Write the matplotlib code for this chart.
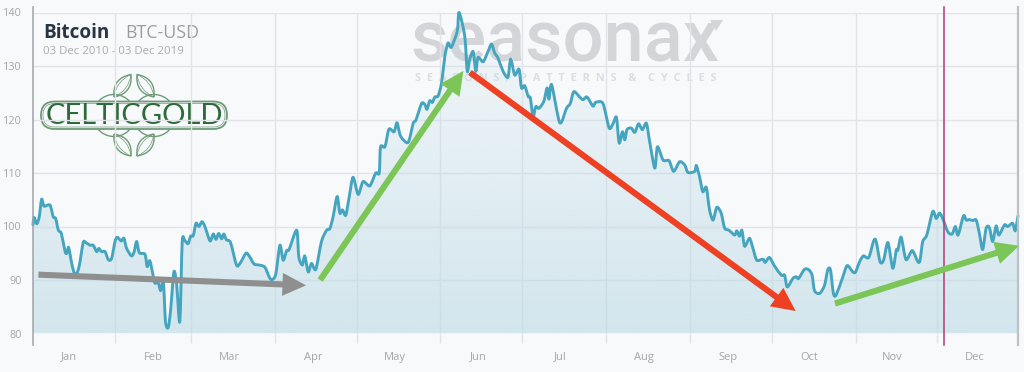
import numpy as np
import matplotlib
matplotlib.use("Agg")
import matplotlib.pyplot as plt
from matplotlib.patches import FancyArrowPatch, FancyBboxPatch, PathPatch, Arc, Polygon
from matplotlib.path import Path

plt.rcParams['font.family'] = ['Open Sans', 'DejaVu Sans']

# seasonal pattern, day of year / index value
days = [0, 0.4, 1.4, 2.3, 3.2, 4.1, 6.3, 7.5, 8.4, 9.4, 10.5, 11.9, 12.5, 13.2, 14.1, 15.2, 16.2, 17.2, 18.6, 19.6,
        21.1, 22.3, 23.6, 24.4, 25.4, 26.7, 27.9, 29.1, 30.4, 31.2, 32.2, 32.8, 33.7, 34.7, 36.5, 37.5, 38.4, 39.4, 41.5, 42.3,
        43.3, 44.6, 45.2, 46.4, 47.3, 48.3, 49.1, 50.1, 51, 52.2, 53.2, 54.4, 55.3, 56.3, 57.5, 58.4, 59.4, 60.4, 61.5, 62.6,
        63.7, 65.6, 66.8, 67.8, 68.8, 69.9, 70.7, 71.7, 73.2, 75.4, 76.7, 78.9, 80.1, 81.9, 83.8, 85.9, 87.8, 88.8, 90, 91.5,
        92.7, 94, 94.9, 97.7, 98.5, 99.8, 100.7, 102, 103.2, 104.8, 106.9, 108.8, 110, 111.2, 112.7, 113.7, 114.7, 115.9, 117.2, 118.6,
        120.5, 122.3, 124.8, 127, 128.3, 128.8, 130.4, 131.9, 133.8, 134.9, 136.2, 139, 140.9, 141.9, 144, 145.2, 146, 147, 148, 148.9,
        150.1, 151.4, 152.6, 153.8, 155, 157.2, 157.9, 160, 160.9, 161.8, 163.1, 164.1, 164.9, 166.8, 168.6, 169.9, 171.1, 172.3, 174.2, 176,
        177, 178.5, 180.1, 181, 182.2, 183.5, 184.3, 185.3, 186.3, 187.5, 189.3, 190.5, 191.2, 192.2, 195.2, 197.7, 199.1, 200.4, 202.6, 203.8,
        205.3, 207.5, 208.5, 211.2, 213.5, 215, 216.2, 217.2, 218.4, 219.3, 220.1, 221.7, 223, 224.4, 225.8, 227.3, 228.5, 230.4, 231.4, 233.5,
        235.7, 237.4, 239.6, 241.5, 242.7, 245.2, 245.8, 247, 248.2, 249.5, 250.7, 252, 253.4, 255, 256.3, 257.9, 260, 260.8, 261.8, 262.7,
        263.7, 265.5, 266.8, 268.2, 270.5, 271.3, 272.9, 274.8, 277.3, 278.5, 279.5, 281.6, 282.8, 283.7, 285.9, 287.5, 288.7, 289.6, 291.5, 293.3,
        294.5, 295.5, 296.6, 297.6, 300.1, 301.7, 303.8, 304.8, 306.3, 307.7, 309.7, 311.5, 312.4, 313.9, 315.2, 316.8, 318.6, 319.9, 320.5, 321.7,
        323.5, 325.8, 327.9, 328.7, 329.7, 331.2, 333.4, 334.7, 335.9, 337.1, 339, 340.6, 341.8, 342.8, 344.8, 345.8, 347, 348.2, 349.5, 350.7,
        351.9, 353.2, 354.4, 355.6, 356.9, 357.9, 360, 361.2, 363, 364, 365]
values = [100.3, 101.7, 100.5, 101.8, 105.1, 103.8, 104, 101.8, 101.5, 99.3, 98.7, 95.3, 95, 96.1, 93.7, 91.4, 91.2, 92.8, 97, 97,
          96.5, 96.5, 95.3, 95.9, 95.3, 95.3, 93.8, 94, 97.2, 98, 97.5, 97.3, 97.8, 95.9, 94.5, 95.3, 97.2, 95.1, 94.8, 92.5,
          93.6, 90.6, 89.4, 89.5, 88, 89.7, 82.2, 81.1, 84.4, 91.5, 89.4, 82.2, 97.2, 97.3, 96.8, 98.2, 98.3, 100.6, 100, 100.9,
          100, 97.3, 98.6, 97.6, 98.7, 97.7, 98.6, 97.5, 97, 92.8, 93.1, 95, 94.5, 93, 92.8, 92.4, 90.3, 90.1, 91.2, 96.5,
          93.7, 95.5, 95.7, 99.3, 94.3, 92.8, 94.5, 91.5, 93.1, 92, 97.2, 99.3, 99.6, 101.8, 105.6, 102.5, 103.1, 102.1, 105.6, 109.2,
          106, 108.4, 107.6, 110, 110, 114.9, 114.9, 118.2, 117.7, 119.4, 116.9, 115.7, 119.3, 119.9, 123, 122.8, 121.9, 123.5, 123.2, 124.2,
          124.4, 126.8, 131.8, 134.3, 133.5, 136.5, 140, 135.5, 129, 131.2, 132.7, 129, 131.6, 130.8, 132.7, 134.1, 132.4, 131.5, 129, 127.9,
          131.3, 128.3, 129.4, 125.9, 126.3, 124.3, 124, 120.5, 122.4, 122.1, 123.4, 125.9, 123.8, 126.5, 119.4, 122.1, 123, 125.2, 124.2, 123.7,
          124.2, 122.5, 123.2, 123, 118.4, 119.3, 120.4, 115.6, 117.7, 116.2, 118.1, 118.4, 117.6, 119.2, 118.1, 119.3, 115.9, 110.9, 114.9, 112.4,
          112.3, 110.3, 112.1, 111.5, 110.1, 110.3, 111.4, 109.3, 106.5, 107.3, 103.1, 101.2, 103.6, 102.5, 99.7, 99.3, 98.4, 99.2, 98.2, 99.3,
          96.3, 97.8, 95.9, 93.7, 93.9, 93.3, 94.2, 92.6, 90.9, 90.9, 88.7, 90.3, 90.6, 90.3, 92, 91.9, 90.9, 88, 87.5, 89,
          91.9, 91.9, 87.5, 87.2, 90.6, 92.7, 91.5, 91.5, 93.4, 94.5, 94.2, 97.3, 97.3, 93.4, 93.7, 97, 92.2, 95.6, 95.6, 98,
          93.8, 95.5, 93.4, 93.7, 97.2, 98.4, 102.8, 101.5, 102.5, 101.5, 99, 98.6, 100, 98.4, 102, 101.2, 101.3, 101.1, 101.2, 98.7,
          95.7, 99.7, 99.8, 97.2, 100.1, 98.4, 100.3, 100, 100.6, 99.2, 102]

month_labels = ['Jan', 'Feb', 'Mar', 'Apr', 'May', 'Jun', 'Jul', 'Aug', 'Sep', 'Oct', 'Nov', 'Dec']
month_lines = [30.5, 58.5, 89.7, 120, 151, 181.2, 212.4, 243.5, 273.7, 304.8, 335]
month_label_days = [13.3, 44.4, 72.6, 104, 134, 165, 195.5, 226.5, 257.5, 287.5, 318.5, 349]
y_ticks = [80, 90, 100, 110, 120, 130, 140]
today = 337.6

# arrows: (start day, start value, end day, end value, colour)
arrows = [(2, 91, 101.2, 89, '#8f8f90'),
          (106.4, 90, 159.5, 129.1, '#7cc557'),
          (161.9, 128.8, 282.6, 84.2, '#ee4023'),
          (297.2, 85.6, 365.4, 96.4, '#7cc557')]

BG = '#f8f9fb'
GRID = '#e2e4e9'
TXT = '#a3a7ab'


def smooth_path(x, y, close_at=None):
    # catmull-rom through the points, same look as a spline series
    x = np.asarray(x, float)
    y = np.asarray(y, float)
    dx = np.gradient(x) / 3 * 0.8
    dy = np.gradient(y) / 3 * 0.8
    verts = [(x[0], y[0])]
    codes = [Path.MOVETO]
    for i in range(len(x) - 1):
        verts += [(x[i] + dx[i], y[i] + dy[i]), (x[i + 1] - dx[i + 1], y[i + 1] - dy[i + 1]), (x[i + 1], y[i + 1])]
        codes += [Path.CURVE4] * 3
    if close_at is not None:
        verts += [(x[-1], close_at), (x[0], close_at), (x[0], y[0])]
        codes += [Path.LINETO] * 3
    return Path(verts, codes)


fig = plt.figure(figsize=(10.24, 3.72), dpi=100, facecolor=BG)

# background layer in pixels: watermark and logo
bg = fig.add_axes([0, 0, 1, 1], zorder=0)
bg.set_xlim(0, 1024)
bg.set_ylim(372, 0)
bg.axis('off')

ax = fig.add_axes([33 / 1024, 38.5 / 372, 985 / 1024, 321 / 372], zorder=1)
ax.patch.set_alpha(0)
for s in ax.spines.values():
    s.set_visible(False)

ax.set_yticks(y_ticks)
ax.tick_params(axis='y', length=0, pad=8, labelsize=7.8, labelcolor=TXT)
ax.set_xticks(month_lines)
ax.set_xticklabels([])
ax.tick_params(axis='x', which='major', length=6.5, color='#dfe2e6', width=1)
ax.set_xticks(month_label_days, minor=True)
ax.set_xticklabels(month_labels, minor=True, fontsize=8, color=TXT)
ax.tick_params(axis='x', which='minor', length=0, pad=13)
ax.grid(True, axis='both', color=GRID, lw=1)
ax.set_axisbelow(True)

# fill with vertical gradient
rgba = np.zeros((256, 1, 4))
rgba[:, :, :3] = matplotlib.colors.to_rgb('#bcdbe5')
rgba[:, :, 3] = np.linspace(0.62, 0.10, 256).reshape(-1, 1)
im = ax.imshow(rgba, extent=[0, 365, 80, 140], origin='lower', aspect='auto', zorder=2)
im.set_clip_path(smooth_path(days, values, close_at=80), transform=ax.transData)

ax.add_patch(PathPatch(smooth_path(days, values), fc='none', ec='#45a5bf', lw=2.1, joinstyle='round',
                       capstyle='round', zorder=3, clip_on=False))
ax.set_xlim(0, 365)
ax.set_ylim(80, 140)

ax.axvline(0, -0.035, 1.017, color='#9ea3a8', lw=1.1, clip_on=False, zorder=4)
ax.axvline(365, -0.035, 1.017, color='#bcc1c6', lw=1.6, clip_on=False, zorder=4)
ax.axvline(today, -0.035, 1.017, color='#b23a7c', lw=1.1, clip_on=False, zorder=4)

for x0, y0, x1, y1, c in arrows:
    ax.add_patch(FancyArrowPatch((x0, y0), (x1, y1), color=c, lw=0, shrinkA=0, shrinkB=0, mutation_scale=1,
                                 arrowstyle='simple,head_length=17,head_width=16.5,tail_width=4.4',
                                 zorder=5, clip_on=False))

# title
bg.text(43, 33, 'Bitcoin', fontsize=13.6, fontweight='bold', color='#2a3543', va='center')
bg.text(125, 33, 'BTC-USD', fontsize=12.8, color='#9a9ea3', va='center')
bg.text(43, 51, '03 Dec 2010 - 03 Dec 2019', fontsize=8.2, color='#a8acb0', va='center')

# watermark
bg.text(565, 62, 'seasonax', fontsize=52, color='#d3d5d8', ha='center', va='baseline', family='Roboto', fontweight='medium')
bg.add_patch(Polygon([(710, 20), (723, 20), (716, 31)], fc='#d3d5d8', ec='none'))
bg.text(566, 78.5, 'S  E  A  S  O  N  S  ,    P  A  T  T  E  R  N  S    &    C  Y  C  L  E  S', fontsize=8,
        color='#dcdee1', ha='center', va='center', fontweight='bold')

# logo
LOGO = '#2e6b3a'
LOGO_LT = '#6f9a78'


def petal(x0, y0, x1, y1, bulge):
    mx, my = (x0 + x1) / 2, (y0 + y1) / 2
    nx, ny = -(y1 - y0), x1 - x0
    n = np.hypot(nx, ny)
    nx, ny = nx / n * bulge, ny / n * bulge
    verts = [(x0, y0), (mx + nx, my + ny), (x1, y1), (mx - nx, my - ny), (x0, y0)]
    codes = [Path.MOVETO, Path.CURVE3, Path.CURVE3, Path.CURVE3, Path.CURVE3]
    return Path(verts, codes)


for p in [(114, 97, 131, 74.5), (154, 97, 137, 74.5), (114, 134, 131, 156), (154, 134, 137, 156)]:
    bg.add_patch(PathPatch(petal(*p, 13), fc='none', ec=LOGO_LT, lw=1.0))
    bg.add_patch(PathPatch(petal(*p, 8), fc='none', ec=LOGO_LT, lw=0.5))
for cx in (114, 154):
    bg.add_patch(Arc((cx, 115.5), 42, 42, theta1=200, theta2=340, ec=LOGO_LT, lw=1.0))
    bg.add_patch(Arc((cx, 115.5), 42, 42, theta1=20, theta2=160, ec=LOGO_LT, lw=1.0))
bg.add_patch(FancyBboxPatch((41, 101.5), 186, 27.5, boxstyle='round,pad=0,rounding_size=13.7', fc=BG, ec=LOGO_LT, lw=1.3, zorder=2))
bg.add_patch(FancyBboxPatch((43, 103.5), 182, 23.5, boxstyle='round,pad=0,rounding_size=11.7', fc='none', ec=LOGO_LT, lw=0.5, zorder=2))
bg.text(134.5, 115.5, 'CELTICGOLD', fontsize=21, color=LOGO, ha='center', va='center', family='Lato', zorder=3)

fig.savefig('out.png', dpi=100, facecolor=BG)
